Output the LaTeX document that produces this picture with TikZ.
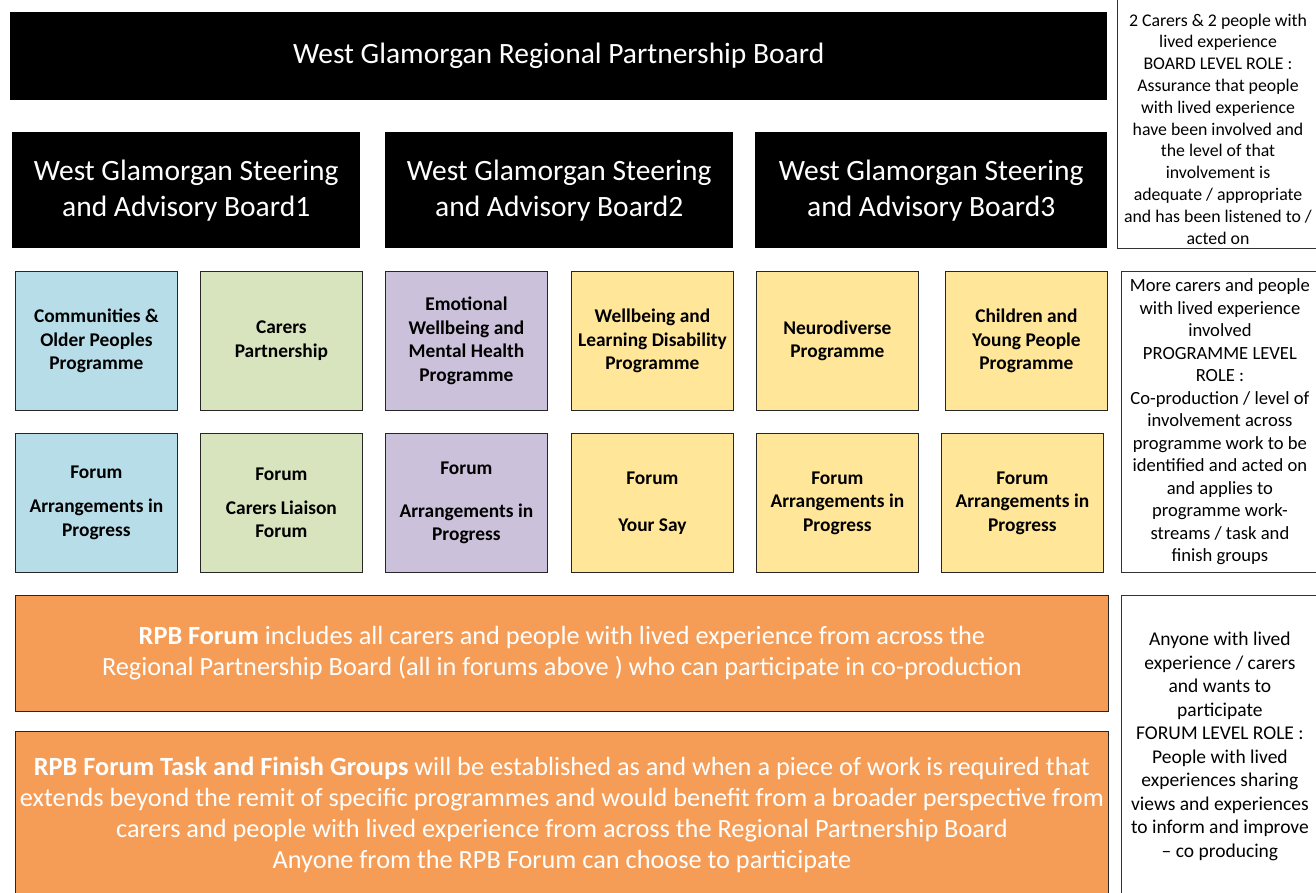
\documentclass[tikz,border=0pt]{standalone}
\usepackage{fontspec}
\setmainfont{Carlito}
\definecolor{progblue}{HTML}{B7DDE8}
\definecolor{proggreen}{HTML}{D7E4BD}
\definecolor{progpurple}{HTML}{CCC1DA}
\definecolor{progyellow}{HTML}{FFE699}
\definecolor{rpborange}{HTML}{F59D56}
\begin{document}
\begin{tikzpicture}[x=1pt, y=-1pt,
    board/.style={fill=black, text=white, anchor=north west, align=center, inner sep=0pt,
      minimum height=116pt, font=\fontsize{29.5}{36}\selectfont},
    prog/.style={draw=black!85, line width=0.8pt, anchor=north west, align=center, inner sep=0pt,
      minimum width=162pt, minimum height=139pt, font=\fontsize{19.4}{23.5}\selectfont\bfseries},
    rpb/.style={draw=black!85, line width=0.8pt, fill=rpborange, text=white, anchor=north west,
      align=center, inner sep=0pt, minimum width=1093pt, font=\fontsize{26.3}{31}\selectfont},
    note/.style={draw=black!80, line width=0.8pt, anchor=north west, align=center, inner sep=0pt}]
  \useasboundingbox (0,0) rectangle (1316,892);

  % boards
  \node[board, minimum width=1097pt, minimum height=88pt] (regional) at (10,12) {West Glamorgan Regional Partnership Board};
  \node[board, minimum width=348pt] (steer1) at (12,132) {West Glamorgan Steering\\and Advisory Board1};
  \node[board, minimum width=348pt] (steer2) at (385,132) {West Glamorgan Steering\\and Advisory Board2};
  \node[board, minimum width=352pt] (steer3) at (755,132) {West Glamorgan Steering\\and Advisory Board3};

  % programmes
  \node[prog, fill=progblue] (older) at (15,271) {Communities \&\\Older Peoples\\Programme};
  \node[prog, fill=proggreen] (carers) at (200,271) {Carers\\Partnership};
  \node[prog, fill=progpurple] (mental) at (385,271) {Emotional\\Wellbeing and\\Mental Health\\Programme};
  \node[prog, fill=progyellow] (learning) at (571,271) {Wellbeing and\\Learning Disability\\Programme};
  \node[prog, fill=progyellow] (neuro) at (756,271) {Neurodiverse\\Programme};
  \node[prog, fill=progyellow] (young) at (945,271) {Children and\\Young People\\Programme};

  % forums
  \node[prog, fill=progblue] (olderforum) at (15,433) {Forum\\[10.5pt]Arrangements in\\Progress};
  \node[prog, fill=proggreen] (carersforum) at (200,433) {Forum\\[10.5pt]Carers Liaison\\Forum};
  \node[prog, fill=progpurple] (mentalforum) at (385,433) {Forum\\[19.5pt]Arrangements in\\Progress};
  \node[prog, fill=progyellow] (learningforum) at (571,433) {Forum\\[23.5pt]Your Say};
  \node[prog, fill=progyellow] (neuroforum) at (756,433) {Forum\\Arrangements in\\Progress};
  \node[prog, fill=progyellow] (youngforum) at (941,433) {Forum\\Arrangements in\\Progress};

  % RPB forum
  \node[rpb, minimum height=116pt] (rpbforum) at (15,595)
    {\textbf{RPB Forum} includes all carers and people with lived experience from across the\\
     Regional Partnership Board (all in forums above ) who can participate in co-production};
  \node[rpb, minimum height=166pt] (rpbtask) at (15,731)
    {\textbf{RPB Forum Task and Finish Groups} will be established as and when a piece of work is required that\\
     extends beyond the remit of specific programmes and would benefit from a broader perspective from\\
     carers and people with lived experience from across the Regional Partnership Board\\
     Anyone from the RPB Forum can choose to participate};

  % roles
  \draw[draw=black!80, line width=0.8pt] (1117,-2) rectangle (1319,248);
  \node[align=center, inner sep=0pt, font=\fontsize{17.8}{21.8}\selectfont] (boardrole) at (1218,129)
    {2 Carers \& 2 people with\\lived experience\\BOARD LEVEL ROLE :\\Assurance that people\\with lived experience\\have been involved and\\the level of that\\involvement is\\adequate / appropriate\\and has been listened to /\\acted on};
  \node[note, minimum width=197pt, minimum height=301pt, font=\fontsize{18.6}{22.5}\selectfont] (progrole) at (1121,271)
    {More carers and people\\with lived experience\\involved\\PROGRAMME LEVEL\\ROLE :\\Co-production / level of\\involvement across\\programme work to be\\identified and acted on\\and applies to\\programme work-\\streams / task and\\finish groups};
  \node[note, minimum width=197pt, minimum height=302pt, font=\fontsize{19.5}{23.5}\selectfont] (forumrole) at (1121,595)
    {Anyone with lived\\experience / carers\\and wants to\\participate\\FORUM LEVEL ROLE :\\People with lived\\experiences sharing\\views and experiences\\to inform and improve\\– co producing};
\end{tikzpicture}
\end{document}
